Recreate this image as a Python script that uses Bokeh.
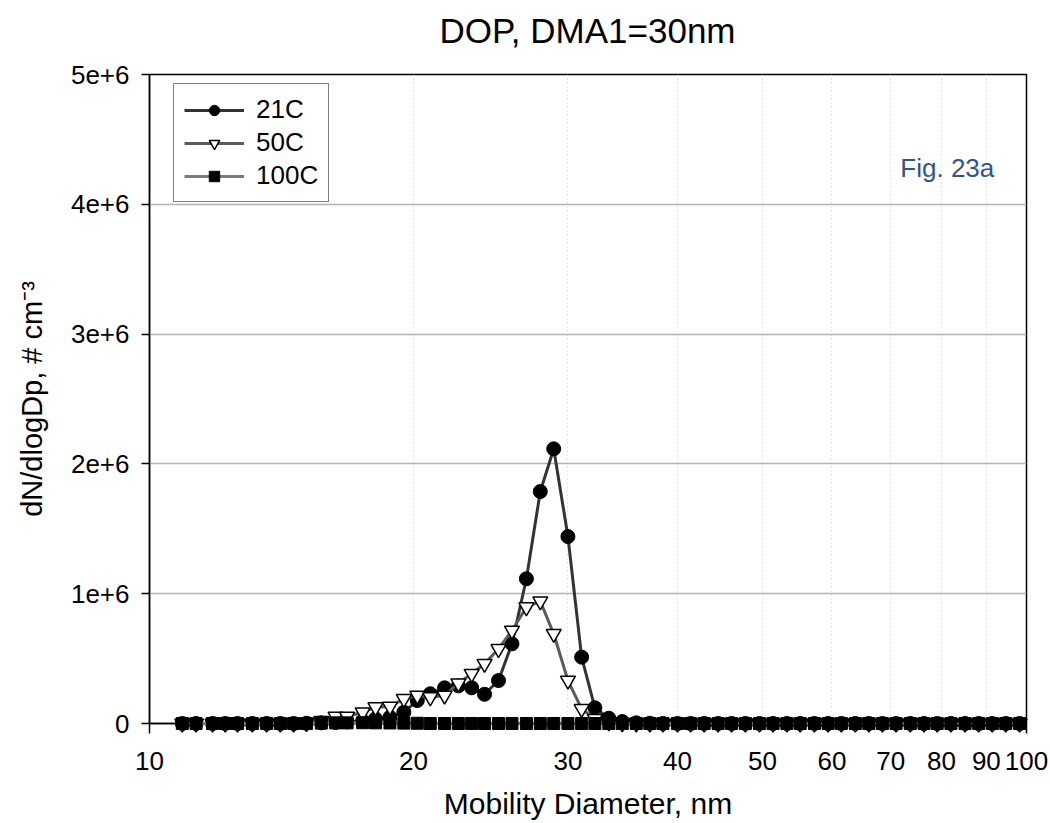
from bokeh.plotting import figure
from bokeh.models import FixedTicker, Legend, LegendItem, Label, NumeralTickFormatter, Div
from bokeh.layouts import column
from bokeh.embed import file_html
from bokeh.resources import INLINE

# Mobility diameter channels (nm)
diam = [10.9, 11.3, 11.8, 12.2, 12.6, 13.1, 13.6, 14.1, 14.6, 15.1, 15.7, 16.3, 16.8,
        17.5, 18.1, 18.8, 19.5, 20.2, 20.9, 21.7, 22.5, 23.3, 24.1, 25.0, 25.9, 26.9,
        27.9, 28.9, 30.0, 31.1, 32.2, 33.4, 34.6, 35.9, 37.2, 38.5, 40.0, 41.4, 42.9,
        44.5, 46.1, 47.8, 49.6, 51.4, 53.3, 55.2, 57.3, 59.4, 61.5, 63.8, 66.1, 68.5,
        71.0, 73.7, 76.4, 79.1, 82.0, 85.1, 88.2, 91.4, 94.7, 98.2]

# dN/dlogDp (# cm^-3)
c21 = [0, 0, 0, 0, 0, 0, 0, 0, 0, 2000, 5000, 8000, 12000,
       20000, 36000, 48000, 87000, 177000, 229000, 275000, 290000, 275000, 225000, 331000, 614000, 1115000,
       1787000, 2116000, 1440000, 511000, 121000, 41000, 15000, 5000, 2000, 0, 0, 0, 0,
       0, 0, 0, 0, 0, 0, 0, 0, 0, 0, 0, 0, 0,
       0, 0, 0, 0, 0, 0, 0, 0, 0, 0]
c50 = [0, 0, 0, 0, 0, 0, 0, 0, 0, 5000, 20000, 54000, 54000,
       87000, 126000, 131000, 190000, 216000, 203000, 216000, 310000, 383000, 460000, 575000, 716000, 896000,
       942000, 691000, 331000, 113000, 36000, 10000, 3000, 0, 0, 0, 0, 0, 0,
       0, 0, 0, 0, 0, 0, 0, 0, 0, 0, 0, 0, 0,
       0, 0, 0, 0, 0, 0, 0, 0, 0, 0]
c100 = [0, 0, 0, 0, 0, 0, 0, 0, 0, 0, 3000, 5000, 5000,
        6000, 5000, 4000, 3000, 2000, 0, 0, 0, 0, 0, 0, 0, 0,
        0, 0, 0, 0, 0, 0, 0, 0, 0, 0, 0, 0, 0,
        0, 0, 0, 0, 0, 0, 0, 0, 0, 0, 0, 0, 0,
        0, 0, 0, 0, 0, 0, 0, 0, 0, 0]

x_ticks = [10, 20, 30, 40, 50, 60, 70, 80, 90, 100]
y_ticks = [0, 1e6, 2e6, 3e6, 4e6, 5e6]
y_labels = ["0", "1e+6", "2e+6", "3e+6", "4e+6", "5e+6"]

TITLE = "DOP, DMA1=30nm"
FONT = "Liberation Sans"

title_div = Div(
    text=('<div style="width:925px; margin-left:125px; padding-top:13px; text-align:center; '
          'font-family:\'Liberation Sans\', Arial, sans-serif; font-size:35px; line-height:35px; '
          'color:black; white-space:nowrap;">' + TITLE + '</div>'),
    width=1050, height=60, margin=0)

p = figure(width=1050, height=763, x_axis_type="log", x_range=(10, 100), y_range=(0, 5e6),
           output_backend="svg", toolbar_location=None, margin=0,
           min_border_left=149, min_border_right=24, min_border_top=14, min_border_bottom=100)

p.title.text = ""
p.title.standoff = 0
p.outline_line_color = "black"
p.outline_line_width = 1.5
p.background_fill_color = "white"
p.border_fill_color = "white"

# x axis
p.xaxis.ticker = FixedTicker(ticks=x_ticks, minor_ticks=[10, 100])
p.xaxis.formatter = NumeralTickFormatter(format="0")
p.xaxis.major_tick_out = 0
p.xaxis.major_tick_in = 0
p.xaxis.minor_tick_out = 10
p.xaxis.minor_tick_in = 0
p.xaxis.minor_tick_line_color = "black"
p.xaxis.minor_tick_line_width = 1.5
p.xaxis.axis_line_color = "black"
p.xaxis.axis_line_width = 1.5
p.xaxis.major_label_text_font = FONT
p.xaxis.major_label_text_font_size = "26px"
p.xaxis.major_label_text_color = "black"
p.xaxis.major_label_standoff = 18
p.xaxis.axis_label = "Mobility Diameter, nm"
p.xaxis.axis_label_text_font = FONT
p.xaxis.axis_label_text_font_size = "30px"
p.xaxis.axis_label_text_font_style = "normal"
p.xaxis.axis_label_text_color = "black"
p.xaxis.axis_label_standoff = 14

# y axis
p.yaxis.ticker = FixedTicker(ticks=y_ticks)
p.yaxis.major_label_overrides = {t: l for t, l in zip(y_ticks, y_labels)}
p.yaxis.major_tick_out = 8
p.yaxis.major_tick_in = 0
p.yaxis.minor_tick_out = 0
p.yaxis.minor_tick_in = 0
p.yaxis.major_tick_line_width = 1.5
p.yaxis.axis_line_color = "black"
p.yaxis.axis_line_width = 1.5
p.yaxis.major_label_text_font = FONT
p.yaxis.major_label_text_font_size = "26px"
p.yaxis.major_label_text_color = "black"
p.yaxis.major_label_standoff = 12
p.yaxis.axis_label = "dN/dlogDp, # cm\u207b\u00b3"
p.yaxis.axis_label_text_font = FONT
p.yaxis.axis_label_text_font_size = "29px"
p.yaxis.axis_label_text_font_style = "normal"
p.yaxis.axis_label_text_color = "black"
p.yaxis.axis_label_standoff = 20

# grids
p.ygrid.ticker = FixedTicker(ticks=[1e6, 2e6, 3e6, 4e6])
p.ygrid.grid_line_color = "#b4b4b4"
p.ygrid.grid_line_width = 1.5
p.xgrid.ticker = FixedTicker(ticks=[20, 30, 40, 50, 60, 70, 80, 90])
p.xgrid.grid_line_color = "#d0d0d0"
p.xgrid.grid_line_width = 1
p.xgrid.grid_line_dash = "1 3"

# series
l21 = p.line(diam, c21, line_color="#333333", line_width=3, level="overlay")
m21 = p.scatter(diam, c21, marker="circle", size=14, fill_color="black", line_color="black",
                level="overlay")
l50 = p.line(diam, c50, line_color="#5a5a5a", line_width=3, level="overlay")
m50 = p.scatter(diam, c50, marker="inverted_triangle", size=15, fill_color="white",
                line_color="black", line_width=1.5, level="overlay")
l100 = p.line(diam, c100, line_color="#7a7a7a", line_width=3, level="overlay")
m100 = p.scatter(diam, c100, marker="square", size=12, fill_color="black", line_color="black",
                 level="overlay")

legend = Legend(items=[
    LegendItem(label="21C", renderers=[l21, m21]),
    LegendItem(label="50C", renderers=[l50, m50]),
    LegendItem(label="100C", renderers=[l100, m100]),
], location=(24, 521))
legend.border_line_color = "black"
legend.border_line_width = 1.5
legend.background_fill_color = "white"
legend.background_fill_alpha = 1
legend.label_text_font = FONT
legend.label_text_font_size = "26px"
legend.label_text_color = "black"
legend.glyph_width = 60
legend.glyph_height = 26
legend.label_height = 26
legend.label_standoff = 12
legend.spacing = 2
legend.padding = 10
legend.margin = 0
legend.level = "overlay"
p.add_layout(legend, "center")

fig_label = Label(x=71.8, y=4.276e6, text="Fig. 23a", text_font=FONT, text_font_size="26px",
                  text_color="#2e5787", text_align="left", text_baseline="middle")
p.add_layout(fig_label)

layout = column(title_div, p, spacing=0)
open("out.html", "w").write(file_html(layout, INLINE))
